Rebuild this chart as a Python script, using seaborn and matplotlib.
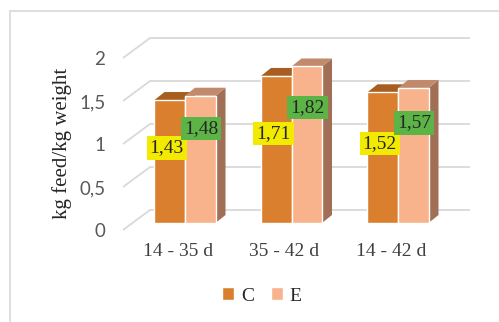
import matplotlib.pyplot as plt
import seaborn as sns
import pandas as pd
from matplotlib.patches import Polygon
from matplotlib.lines import Line2D
from matplotlib.transforms import ScaledTranslation

# ========================================
# Data
# ========================================
periods = ['14 - 35 d', '35 - 42 d', '14 - 42 d']
groups = ['C', 'E']
c_values = [1.43, 1.71, 1.52]
e_values = [1.48, 1.82, 1.57]
y_ticks = [0, 0.5, 1, 1.5, 2]
y_tick_labels = ['0', '0,5', '1', '1,5', '2']

df = pd.DataFrame({
    'period': periods * 2,
    'group': ['C'] * len(periods) + ['E'] * len(periods),
    'value': c_values + e_values,
})

# ========================================
# Style
# ========================================
front_colors = {'C': '#DA7F2D', 'E': '#F8B28C'}
top_colors = {'C': '#A85E20', 'E': '#C28A6D'}
side_colors = {'C': '#9A5A22', 'E': '#A06F56'}
label_bg = {'C': '#F2EA00', 'E': '#5CB446'}
grid_color = '#D9D9D9'

sns.set_style('white')
plt.rcParams['font.family'] = ['Liberation Serif', 'DejaVu Serif']

# ========================================
# Figure / axes geometry (pixels)
# ========================================
W, H = 499, 322
fig = plt.figure(figsize=(W / 100, H / 100), dpi=100)
ax_l, ax_t, ax_r, ax_b = 120, 30, 470, 240
ax = fig.add_axes([ax_l / W, 1 - ax_b / H, (ax_r - ax_l) / W, (ax_b - ax_t) / H])

cat_px = 106.5   # pixels between categories
unit_px = 86.0   # pixels per y unit
x0_px = 185      # pixel of first category
zero_px = 223    # pixel of y = 0 (bar floor)

sns.barplot(data=df, x='period', y='value', hue='group', palette=front_colors,
            width=0.573, saturation=1, errorbar=None, ax=ax, zorder=3)

ax.set_xlim(-(x0_px - ax_l) / cat_px, (ax_r - x0_px) / cat_px)
ax.set_ylim(-(ax_b - zero_px) / unit_px, (zero_px - ax_t) / unit_px)

# 3D depth of the bars
ddx, ddy = 10 / cat_px, 8 / unit_px

for grp, cont in zip(groups, ax.containers):
    for bar in cont:
        x = bar.get_x()
        w = bar.get_width()
        h = bar.get_height()
        side = [(x + w, 0), (x + w + ddx, ddy), (x + w + ddx, h + ddy), (x + w, h)]
        top = [(x, h), (x + w, h), (x + w + ddx, h + ddy), (x + ddx, h + ddy)]
        ax.add_patch(Polygon(side, closed=True, fc=side_colors[grp], lw=0, zorder=2))
        ax.add_patch(Polygon(top, closed=True, fc=top_colors[grp], lw=0, zorder=2))

# back wall gridlines with slanted floor part
xlim = ax.get_xlim()
x_front = xlim[0] + 3 / cat_px
x_back = (150 - x0_px) / cat_px
for v in y_ticks:
    ax.plot([x_front, x_back, xlim[1]],
            [v - 7 / unit_px, v + 13 / unit_px, v + 13 / unit_px],
            color=grid_color, lw=1.3, zorder=1, solid_capstyle='butt')

# ========================================
# Axes text
# ========================================
for s in ax.spines.values():
    s.set_visible(False)
ax.set_yticks(y_ticks, y_tick_labels)
ax.tick_params(axis='y', length=0, pad=10.5)
ax.tick_params(axis='x', length=0, pad=2)
for lab in ax.get_yticklabels():
    lab.set_family(['Lato', 'DejaVu Sans'])
    lab.set_fontsize(13.5)
    lab.set_color('#595959')
    lab.set_transform(lab.get_transform() + ScaledTranslation(0, -0.07, fig.dpi_scale_trans))
for lab in ax.get_xticklabels():
    lab.set_fontsize(14)
    lab.set_color('#404040')
    lab.set_transform(lab.get_transform() + ScaledTranslation(-0.07, 0, fig.dpi_scale_trans))

ax.set_xlabel('')
ax.set_ylabel('kg feed/kg weight', fontsize=15, color='#262626')
ax.yaxis.set_label_coords(-0.137, 0.462)

# data labels
for grp, cont, vals, frac, dxp in zip(groups, ax.containers, [c_values, e_values],
                                      [0.61, 0.74], [-3, 1]):
    for bar, v in zip(cont, vals):
        ax.text(bar.get_x() + bar.get_width() / 2 + dxp / cat_px, v * frac,
                f'{v:.2f}'.replace('.', ','), ha='center', va='center',
                fontsize=14, color='#262626', zorder=6,
                bbox=dict(boxstyle='square,pad=0.16', fc=label_bg[grp], ec='none'))

# legend
sns.move_legend(ax, 'center', bbox_to_anchor=(262 / W, 1 - 296 / H),
                bbox_transform=fig.transFigure, ncol=2, frameon=False, title=None,
                handlelength=0.6, handleheight=0.6, handletextpad=0.35,
                columnspacing=0.9, fontsize=14)

# chart area border (top and left edges)
fig.add_artist(Line2D([9.5 / W, 9.5 / W], [0, 1 - 10.5 / H], transform=fig.transFigure,
                      color=grid_color, lw=1.2))
fig.add_artist(Line2D([9.5 / W, 1], [1 - 10.5 / H, 1 - 10.5 / H], transform=fig.transFigure,
                      color=grid_color, lw=1.2))

plt.savefig('out.png', dpi=100)
